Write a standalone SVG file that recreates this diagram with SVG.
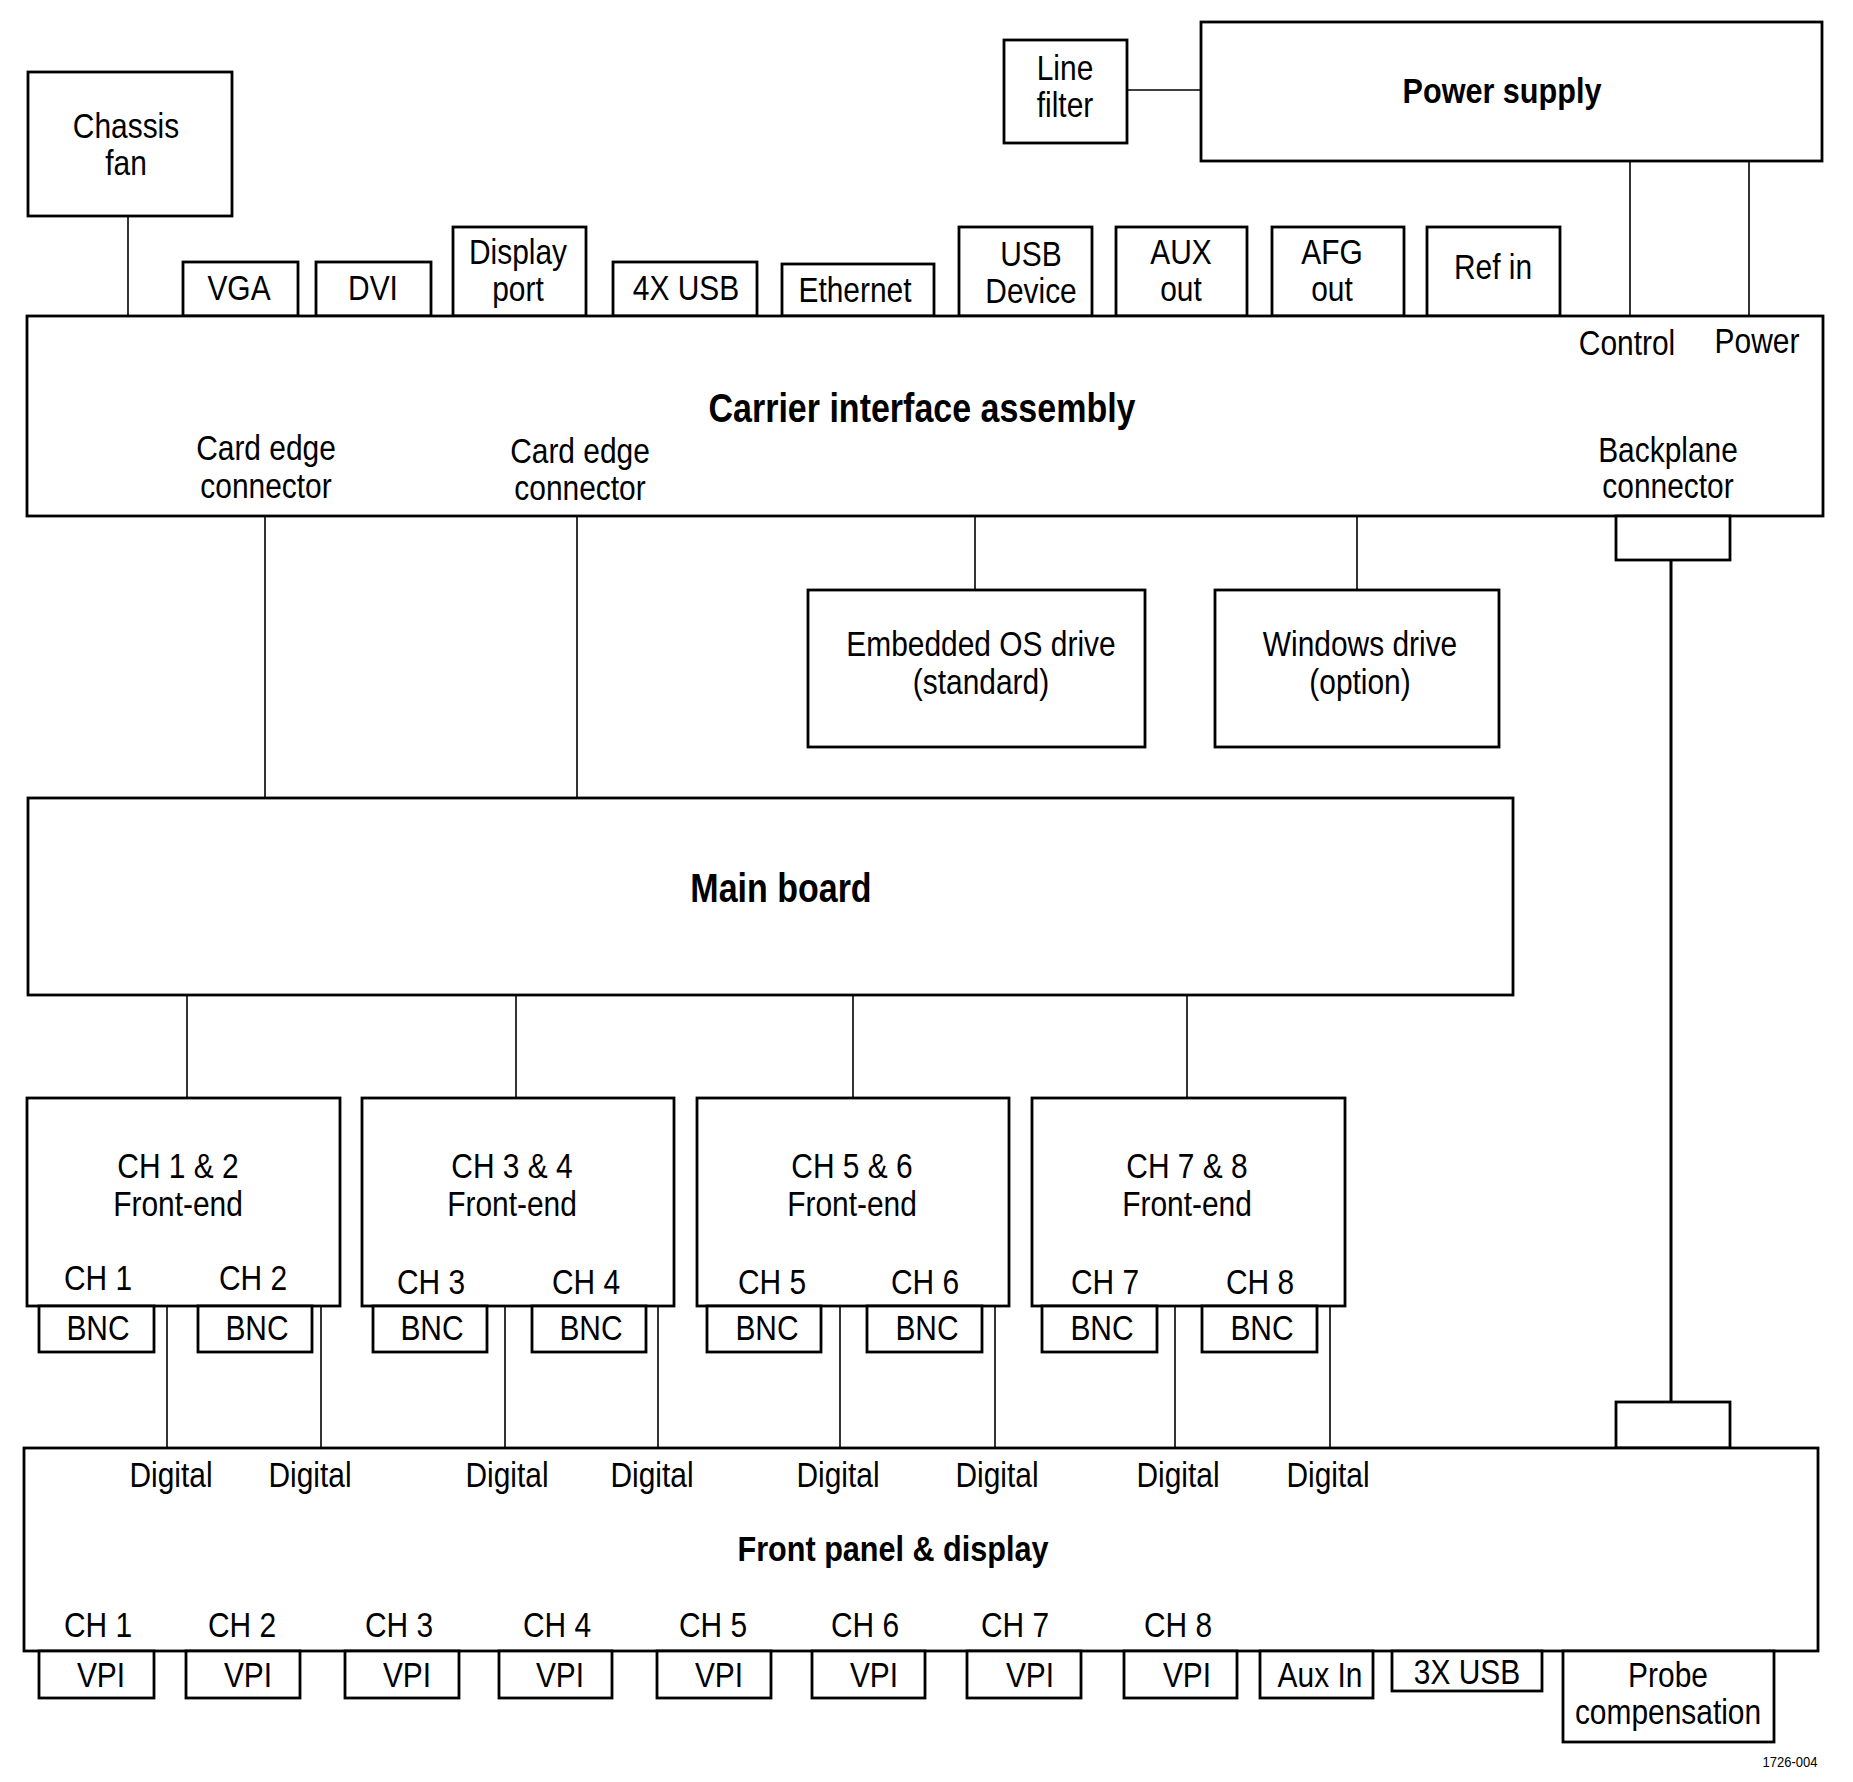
<svg xmlns="http://www.w3.org/2000/svg" width="1853" height="1782" viewBox="0 0 1853 1782">
<style>
.bx{fill:#fff;stroke:#000;stroke-width:2.8}
.ln{fill:none;stroke:#000;stroke-width:1.6}
.lnb{fill:none;stroke:#000;stroke-width:3}
.t{font-family:"Liberation Sans",Arial,sans-serif;font-size:35px;text-anchor:middle;fill:#000}
.b{font-family:"Liberation Sans",Arial,sans-serif;font-weight:bold;text-anchor:middle;fill:#000}
.s{font-family:"Liberation Sans",Arial,sans-serif;font-size:14px;text-anchor:middle;fill:#000}
</style>
<rect width="1853" height="1782" fill="#fff"/>
<g id="connectors">
<line class="ln" x1="128" y1="216" x2="128" y2="316"/>
<line class="ln" x1="1127" y1="90" x2="1201" y2="90"/>
<line class="ln" x1="1630" y1="161" x2="1630" y2="316"/>
<line class="ln" x1="1749" y1="161" x2="1749" y2="316"/>
<line class="ln" x1="265" y1="516" x2="265" y2="798"/>
<line class="ln" x1="577" y1="516" x2="577" y2="798"/>
<line class="ln" x1="975" y1="516" x2="975" y2="590"/>
<line class="ln" x1="1357" y1="516" x2="1357" y2="590"/>
<line class="lnb" x1="1671" y1="560" x2="1671" y2="1402"/>
<line class="ln" x1="187" y1="995" x2="187" y2="1098"/>
<line class="ln" x1="516" y1="995" x2="516" y2="1098"/>
<line class="ln" x1="853" y1="995" x2="853" y2="1098"/>
<line class="ln" x1="1187" y1="995" x2="1187" y2="1098"/>
<line class="ln" x1="167" y1="1306" x2="167" y2="1448"/>
<line class="ln" x1="321" y1="1306" x2="321" y2="1448"/>
<line class="ln" x1="505" y1="1306" x2="505" y2="1448"/>
<line class="ln" x1="658" y1="1306" x2="658" y2="1448"/>
<line class="ln" x1="840" y1="1306" x2="840" y2="1448"/>
<line class="ln" x1="995" y1="1306" x2="995" y2="1448"/>
<line class="ln" x1="1175" y1="1306" x2="1175" y2="1448"/>
<line class="ln" x1="1330" y1="1306" x2="1330" y2="1448"/>
</g>
<g id="chassis-fan">
<rect class="bx" x="28" y="72" width="204" height="144"/>
<text class="t" transform="translate(126,138) scale(.855,1)"><tspan x="0">Chassis</tspan><tspan x="0" dy="37">fan</tspan></text>
</g>
<g id="line-filter">
<rect class="bx" x="1004" y="40" width="123" height="103"/>
<text class="t" transform="translate(1065,80) scale(.855,1)"><tspan x="0">Line</tspan><tspan x="0" dy="37">filter</tspan></text>
</g>
<g id="power-supply">
<rect class="bx" x="1201" y="22" width="621" height="139"/>
<text class="b" font-size="36" transform="translate(1502,103) scale(.85,1)">Power supply</text>
</g>
<g id="vga"><rect class="bx" x="183" y="262" width="115" height="54"/><text class="t" transform="translate(239,300) scale(.855,1)">VGA</text></g>
<g id="dvi"><rect class="bx" x="316" y="262" width="115" height="54"/><text class="t" transform="translate(373,300) scale(.855,1)">DVI</text></g>
<g id="display-port"><rect class="bx" x="453" y="227" width="133" height="89"/><text class="t" transform="translate(518,264) scale(.855,1)"><tspan x="0">Display</tspan><tspan x="0" dy="37">port</tspan></text></g>
<g id="usb4x"><rect class="bx" x="613" y="262" width="144" height="54"/><text class="t" transform="translate(686,300) scale(.855,1)">4X USB</text></g>
<g id="ethernet"><rect class="bx" x="782" y="264" width="152" height="52"/><text class="t" transform="translate(855,302) scale(.855,1)">Ethernet</text></g>
<g id="usb-device"><rect class="bx" x="959" y="227" width="133" height="89"/><text class="t" transform="translate(1031,266) scale(.855,1)"><tspan x="0">USB</tspan><tspan x="0" dy="37">Device</tspan></text></g>
<g id="aux-out"><rect class="bx" x="1116" y="227" width="131" height="89"/><text class="t" transform="translate(1181,264) scale(.855,1)"><tspan x="0">AUX</tspan><tspan x="0" dy="37">out</tspan></text></g>
<g id="afg-out"><rect class="bx" x="1272" y="227" width="132" height="89"/><text class="t" transform="translate(1332,264) scale(.855,1)"><tspan x="0">AFG</tspan><tspan x="0" dy="37">out</tspan></text></g>
<g id="ref-in"><rect class="bx" x="1427" y="227" width="133" height="89"/><text class="t" transform="translate(1493,279) scale(.855,1)">Ref in</text></g>
<g id="carrier">
<rect class="bx" x="27" y="316" width="1796" height="200"/>
<text class="b" font-size="40" transform="translate(922,422) scale(.85,1)">Carrier interface assembly</text>
<text class="t" transform="translate(1627,355) scale(.855,1)">Control</text>
<text class="t" transform="translate(1757,353) scale(.855,1)">Power</text>
<text class="t" transform="translate(266,460) scale(.855,1)"><tspan x="0">Card edge</tspan><tspan x="0" dy="38">connector</tspan></text>
<text class="t" transform="translate(580,463) scale(.855,1)"><tspan x="0">Card edge</tspan><tspan x="0" dy="37">connector</tspan></text>
<text class="t" transform="translate(1668,462) scale(.855,1)"><tspan x="0">Backplane</tspan><tspan x="0" dy="36">connector</tspan></text>
</g>
<g id="backplane-top"><rect class="bx" x="1616" y="516" width="114" height="44"/></g>
<g id="embedded-os-drive">
<rect class="bx" x="808" y="590" width="337" height="157"/>
<text class="t" transform="translate(981,656) scale(.855,1)"><tspan x="0">Embedded OS drive</tspan><tspan x="0" dy="38">(standard)</tspan></text>
</g>
<g id="windows-drive">
<rect class="bx" x="1215" y="590" width="284" height="157"/>
<text class="t" transform="translate(1360,656) scale(.855,1)"><tspan x="0">Windows drive</tspan><tspan x="0" dy="38">(option)</tspan></text>
</g>
<g id="main-board">
<rect class="bx" x="28" y="798" width="1485" height="197"/>
<text class="b" font-size="40" transform="translate(781,902) scale(.85,1)">Main board</text>
</g>
<g id="fe12">
<rect class="bx" x="27" y="1098" width="313" height="208"/>
<text class="t" transform="translate(178,1178) scale(.855,1)"><tspan x="0">CH 1 &amp; 2</tspan><tspan x="0" dy="38">Front-end</tspan></text>
<text class="t" transform="translate(98,1290) scale(.855,1)">CH 1</text>
<text class="t" transform="translate(253,1290) scale(.855,1)">CH 2</text>
<rect class="bx" x="39" y="1306" width="115" height="46"/><text class="t" transform="translate(98,1340) scale(.855,1)">BNC</text>
<rect class="bx" x="198" y="1306" width="114" height="46"/><text class="t" transform="translate(257,1340) scale(.855,1)">BNC</text>
</g>
<g id="fe34">
<rect class="bx" x="362" y="1098" width="312" height="208"/>
<text class="t" transform="translate(512,1178) scale(.855,1)"><tspan x="0">CH 3 &amp; 4</tspan><tspan x="0" dy="38">Front-end</tspan></text>
<text class="t" transform="translate(431,1294) scale(.855,1)">CH 3</text>
<text class="t" transform="translate(586,1294) scale(.855,1)">CH 4</text>
<rect class="bx" x="373" y="1306" width="114" height="46"/><text class="t" transform="translate(432,1340) scale(.855,1)">BNC</text>
<rect class="bx" x="532" y="1306" width="114" height="46"/><text class="t" transform="translate(591,1340) scale(.855,1)">BNC</text>
</g>
<g id="fe56">
<rect class="bx" x="697" y="1098" width="312" height="208"/>
<text class="t" transform="translate(852,1178) scale(.855,1)"><tspan x="0">CH 5 &amp; 6</tspan><tspan x="0" dy="38">Front-end</tspan></text>
<text class="t" transform="translate(772,1294) scale(.855,1)">CH 5</text>
<text class="t" transform="translate(925,1294) scale(.855,1)">CH 6</text>
<rect class="bx" x="707" y="1306" width="114" height="46"/><text class="t" transform="translate(767,1340) scale(.855,1)">BNC</text>
<rect class="bx" x="867" y="1306" width="115" height="46"/><text class="t" transform="translate(927,1340) scale(.855,1)">BNC</text>
</g>
<g id="fe78">
<rect class="bx" x="1032" y="1098" width="313" height="208"/>
<text class="t" transform="translate(1187,1178) scale(.855,1)"><tspan x="0">CH 7 &amp; 8</tspan><tspan x="0" dy="38">Front-end</tspan></text>
<text class="t" transform="translate(1105,1294) scale(.855,1)">CH 7</text>
<text class="t" transform="translate(1260,1294) scale(.855,1)">CH 8</text>
<rect class="bx" x="1042" y="1306" width="115" height="46"/><text class="t" transform="translate(1102,1340) scale(.855,1)">BNC</text>
<rect class="bx" x="1202" y="1306" width="115" height="46"/><text class="t" transform="translate(1262,1340) scale(.855,1)">BNC</text>
</g>
<g id="backplane-bottom"><rect class="bx" x="1616" y="1402" width="114" height="46"/></g>
<g id="front-panel">
<rect class="bx" x="24" y="1448" width="1794" height="203"/>
<text class="t" transform="translate(171,1487) scale(.855,1)">Digital</text>
<text class="t" transform="translate(310,1487) scale(.855,1)">Digital</text>
<text class="t" transform="translate(507,1487) scale(.855,1)">Digital</text>
<text class="t" transform="translate(652,1487) scale(.855,1)">Digital</text>
<text class="t" transform="translate(838,1487) scale(.855,1)">Digital</text>
<text class="t" transform="translate(997,1487) scale(.855,1)">Digital</text>
<text class="t" transform="translate(1178,1487) scale(.855,1)">Digital</text>
<text class="t" transform="translate(1328,1487) scale(.855,1)">Digital</text>
<text class="b" font-size="36" transform="translate(893,1561) scale(.85,1)">Front panel &amp; display</text>
<text class="t" transform="translate(98,1637) scale(.855,1)">CH 1</text>
<text class="t" transform="translate(242,1637) scale(.855,1)">CH 2</text>
<text class="t" transform="translate(399,1637) scale(.855,1)">CH 3</text>
<text class="t" transform="translate(557,1637) scale(.855,1)">CH 4</text>
<text class="t" transform="translate(713,1637) scale(.855,1)">CH 5</text>
<text class="t" transform="translate(865,1637) scale(.855,1)">CH 6</text>
<text class="t" transform="translate(1015,1637) scale(.855,1)">CH 7</text>
<text class="t" transform="translate(1178,1637) scale(.855,1)">CH 8</text>
</g>
<g id="vpi1"><rect class="bx" x="39" y="1651" width="115" height="47"/><text class="t" transform="translate(101,1687) scale(.855,1)">VPI</text></g>
<g id="vpi2"><rect class="bx" x="186" y="1651" width="114" height="47"/><text class="t" transform="translate(248,1687) scale(.855,1)">VPI</text></g>
<g id="vpi3"><rect class="bx" x="345" y="1651" width="114" height="47"/><text class="t" transform="translate(407,1687) scale(.855,1)">VPI</text></g>
<g id="vpi4"><rect class="bx" x="499" y="1651" width="113" height="47"/><text class="t" transform="translate(560,1687) scale(.855,1)">VPI</text></g>
<g id="vpi5"><rect class="bx" x="657" y="1651" width="114" height="47"/><text class="t" transform="translate(719,1687) scale(.855,1)">VPI</text></g>
<g id="vpi6"><rect class="bx" x="812" y="1651" width="113" height="47"/><text class="t" transform="translate(874,1687) scale(.855,1)">VPI</text></g>
<g id="vpi7"><rect class="bx" x="967" y="1651" width="114" height="47"/><text class="t" transform="translate(1030,1687) scale(.855,1)">VPI</text></g>
<g id="vpi8"><rect class="bx" x="1124" y="1651" width="113" height="47"/><text class="t" transform="translate(1187,1687) scale(.855,1)">VPI</text></g>
<g id="aux-in"><rect class="bx" x="1260" y="1651" width="113" height="47"/><text class="t" transform="translate(1320,1687) scale(.855,1)">Aux In</text></g>
<g id="usb3x"><rect class="bx" x="1392" y="1651" width="150" height="40"/><text class="t" transform="translate(1467,1684) scale(.855,1)">3X USB</text></g>
<g id="probe-comp"><rect class="bx" x="1563" y="1651" width="211" height="91"/><text class="t" transform="translate(1668,1687) scale(.855,1)"><tspan x="0">Probe</tspan><tspan x="0" dy="37">compensation</tspan></text></g>
<text class="s" transform="translate(1790,1767) scale(.93,1)">1726-004</text>
</svg>
